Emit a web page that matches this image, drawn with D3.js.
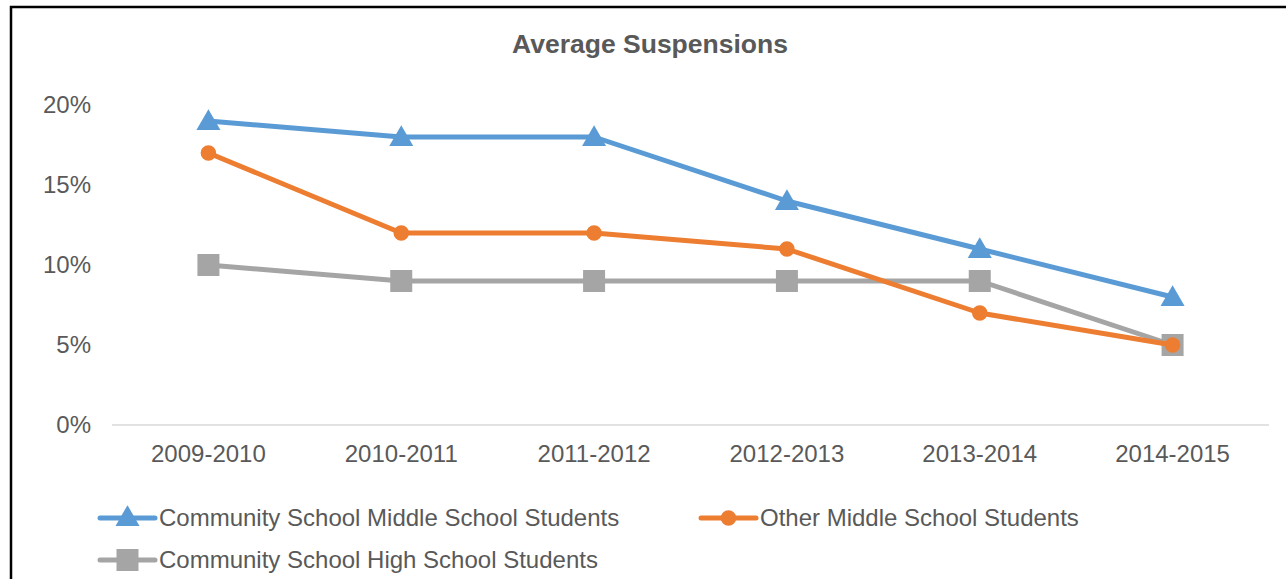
<!DOCTYPE html>
<html lang="en">
<head>
    <title>Average Suspensions</title>
    <script src="https://d3js.org/d3.v7.min.js" charset="utf-8"></script>
    <style>
        body { margin: 0; background: #fff; }
        text { font-family: "Liberation Sans", Arial, sans-serif; fill: #595959; }
    </style>
</head>
<body>
    <script>
        // Data
        var years = ["2009-2010", "2010-2011", "2011-2012", "2012-2013", "2013-2014", "2014-2015"];
        var csMiddle = [19, 18, 18, 14, 11, 8];
        var otherMiddle = [17, 12, 12, 11, 7, 5];
        var csHigh = [10, 9, 9, 9, 9, 5];
        var yTicks = [0, 5, 10, 15, 20];

        var series = [
            { name: "Community School Middle School Students", values: csMiddle, color: "#5B9BD5", symbol: "triangle" },
            { name: "Other Middle School Students", values: otherMiddle, color: "#ED7D31", symbol: "circle" },
            { name: "Community School High School Students", values: csHigh, color: "#A5A5A5", symbol: "square" }
        ];

        var width = 1286;
        var height = 579;

        var svg = d3.select("body")
            .append("svg")
            .attr("width", width)
            .attr("height", height);

        // frame (only top and left edges visible in the crop)
        svg.append("path")
            .attr("d", "M11," + height + "V7H" + width)
            .attr("fill", "none")
            .attr("stroke", "#000")
            .attr("stroke-width", 2.5);

        svg.append("text")
            .attr("x", 650)
            .attr("y", 53)
            .attr("text-anchor", "middle")
            .style("font-size", "26.5px")
            .style("font-weight", "bold")
            .text("Average Suspensions");

        var x = d3.scaleBand()
            .domain(years)
            .range([112, 1269]);

        var y = d3.scaleLinear()
            .domain([0, 20])
            .range([425, 105]);

        // axis line at 0
        svg.append("line")
            .attr("x1", 112).attr("x2", 1269)
            .attr("y1", y(0)).attr("y2", y(0))
            .attr("stroke", "#D9D9D9")
            .attr("stroke-width", 1.5);

        // y tick labels
        svg.selectAll(".ytick")
            .data(yTicks)
            .enter()
            .append("text")
            .attr("class", "ytick")
            .attr("x", 91)
            .attr("y", function(d) { return y(d); })
            .attr("dy", "0.35em")
            .attr("text-anchor", "end")
            .style("font-size", "24px")
            .text(function(d) { return d + "%"; });

        // x tick labels
        svg.selectAll(".xtick")
            .data(years)
            .enter()
            .append("text")
            .attr("class", "xtick")
            .attr("x", function(d) { return x(d) + x.bandwidth() / 2; })
            .attr("y", 462)
            .attr("text-anchor", "middle")
            .style("font-size", "24px")
            .text(function(d) { return d; });

        var line = d3.line()
            .x(function(d, i) { return x(years[i]) + x.bandwidth() / 2; })
            .y(function(d) { return y(d); });

        var symbolType = {
            triangle: d3.symbolTriangle,
            circle: d3.symbolCircle,
            square: d3.symbolSquare
        };
        var symbolSize = { triangle: 250, circle: 190, square: 484 };

        function marker(sel, s) {
            sel.attr("d", d3.symbol().type(symbolType[s.symbol]).size(symbolSize[s.symbol]))
                .attr("fill", s.color);
        }

        // draw gray first, then orange, then blue on top
        var order = [series[2], series[1], series[0]];
        order.forEach(function(s) {
            var g = svg.append("g");
            g.append("path")
                .datum(s.values)
                .attr("d", line)
                .attr("fill", "none")
                .attr("stroke", s.color)
                .attr("stroke-width", 5)
                .attr("stroke-linejoin", "round")
                .attr("stroke-linecap", "round");
            g.selectAll("path.pt")
                .data(s.values)
                .enter()
                .append("path")
                .attr("class", "pt")
                .attr("transform", function(d, i) {
                    var dy = s.symbol === "triangle" ? 2 : 0;
                    return "translate(" + (x(years[i]) + x.bandwidth() / 2) + "," + (y(d) + dy) + ")";
                })
                .call(marker, s);
        });

        // legend
        var legendPos = [[100, 518], [701, 518], [100, 560]];
        series.forEach(function(s, i) {
            var p = legendPos[i];
            var g = svg.append("g").attr("transform", "translate(" + p[0] + "," + p[1] + ")");
            g.append("line")
                .attr("x1", 0).attr("x2", 55)
                .attr("stroke", s.color)
                .attr("stroke-width", 5)
                .attr("stroke-linecap", "round");
            g.append("path")
                .attr("transform", "translate(27.5," + (s.symbol === "triangle" ? 1 : 0) + ")")
                .call(marker, s);
            g.append("text")
                .attr("x", 59)
                .attr("dy", "0.35em")
                .style("font-size", "24px")
                .text(s.name);
        });
    </script>
</body>
</html>
